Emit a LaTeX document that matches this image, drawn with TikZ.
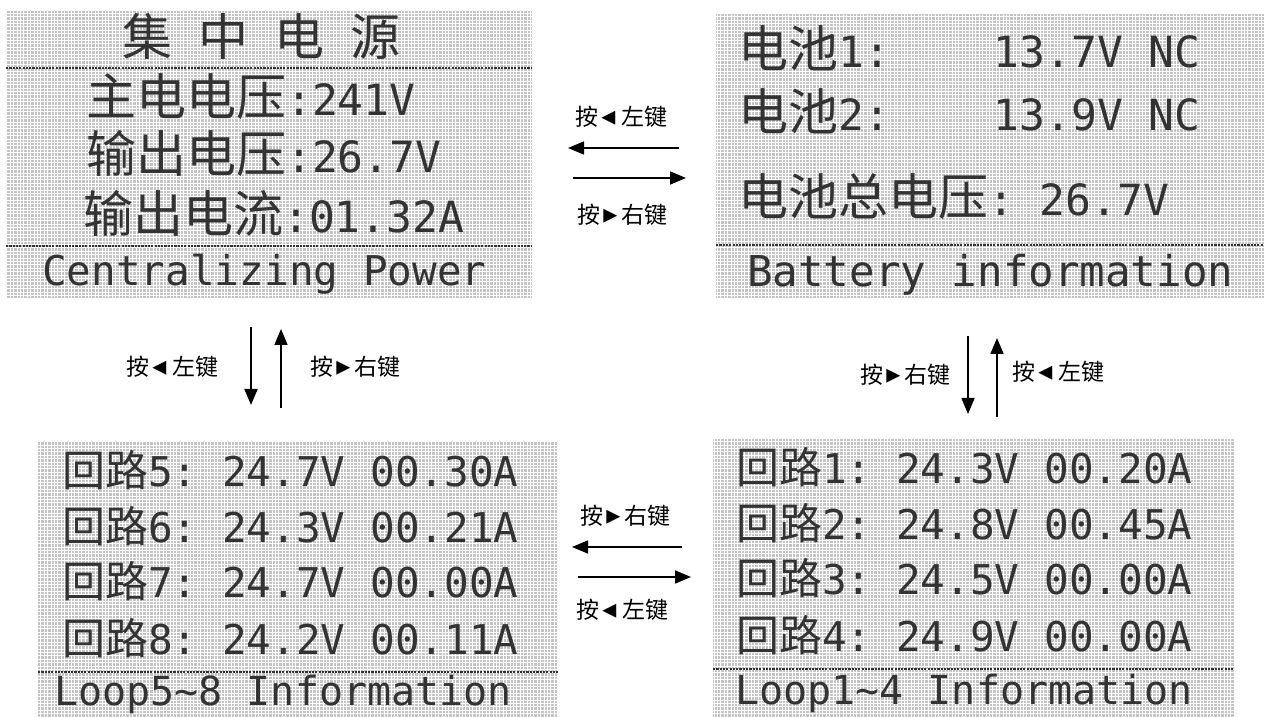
\documentclass[tikz,border=0pt]{standalone}
\usepackage{fontspec}
\usetikzlibrary{arrows.meta}
\newfontfamily\lcdzh{Noto Sans CJK SC}
\newfontfamily\lcdmono{DejaVu Sans Mono}
\newfontfamily\keysym{DejaVu Sans}
% one line of an LCD screen: chinese part, then fixed-width part
\newcommand{\lcdtext}[4]{{\lcdzh\fontsize{#1}{#1}\selectfont #3}{\lcdmono\fontsize{#2}{#2}\selectfont #4}}
\newcommand{\lcdlatin}[2]{{\lcdmono\fontsize{#1}{#1}\selectfont #2}}
\newcommand{\keytri}[1]{{\keysym\fontsize{28}{28}\selectfont\makebox[9pt]{#1}}}
\newcommand{\keyleft}{按\hspace{6pt}\keytri{◂}\hspace{8pt}左键}
\newcommand{\keyright}{按\hspace{6pt}\keytri{▸}\hspace{6pt}右键}

\begin{document}
\begin{tikzpicture}[x=1pt,y=1pt,>={Triangle[length=16pt,width=13pt]},
    lcdback/.style={fill=black!23},
    lcdgrid/.style={draw=white,line width=0.9pt,step=3.4pt},
    lcdsep/.style={draw=black!80,line width=2.4pt,dash pattern=on 2.2pt off 1.1pt},
    lcdtxt/.style={anchor=base west,inner sep=0pt,text=black!80},
    keytxt/.style={inner sep=0pt,font=\lcdzh\fontsize{23}{23}\selectfont},
    keyarrow/.style={->,line width=1.6pt}]
    \useasboundingbox (0,0) rectangle (1264,717);

    % the four screens
    \foreach \xa/\ya/\xb/\yb in {6/418/532/706,716/419/1264/703,38/0/558/275,713/0/1234/278}{
        \fill[lcdback] (\xa,\ya) rectangle (\xb,\yb);
        \draw[lcdgrid] (\xa,\ya) grid (\xb,\yb);
    }
    \draw[lcdsep] (6,649) -- (532,649);
    \draw[lcdsep] (6,471) -- (532,471);
    \draw[lcdsep] (716,472) -- (1264,472);
    \draw[lcdsep] (38,45) -- (558,45);
    \draw[lcdsep] (713,48) -- (1234,48);

    % centralizing power
    \node[lcdtxt] (powtitle) at (122,661) {\lcdtext{50pt}{43pt}{集\hspace{26pt}中\hspace{26pt}电\hspace{26pt}源}{}};
    \node[lcdtxt] (powmain) at (86,601) {\lcdtext{50pt}{43pt}{主电电压}{:241V}};
    \node[lcdtxt] (powvolt) at (86,544) {\lcdtext{50pt}{43pt}{输出电压}{:26.7V}};
    \node[lcdtxt] (powcurr) at (83,484) {\lcdtext{50pt}{43pt}{输出电流}{:01.32A}};
    \node[lcdtxt] (powname) at (42,431) {\lcdlatin{41pt}{Centralizing Power}};

    % battery information
    \node[lcdtxt] (batone) at (738,649) {\lcdtext{50pt}{43pt}{电池}{1:\ \ \ \ 13.7V\ NC}};
    \node[lcdtxt] (battwo) at (738,586) {\lcdtext{50pt}{43pt}{电池}{2:\ \ \ \ 13.9V\ NC}};
    \node[lcdtxt] (batsum) at (738,501) {\lcdtext{50pt}{43pt}{电池总电压}{:\ 26.7V}};
    \node[lcdtxt] (batname) at (747,430) {\lcdlatin{42.5pt}{Battery information}};

    % loops 5-8
    \node[lcdtxt] (loopfive) at (62,230) {\lcdtext{43pt}{41pt}{回路}{5:\ 24.7V\ 00.30A}};
    \node[lcdtxt] (loopsix) at (62,174) {\lcdtext{43pt}{41pt}{回路}{6:\ 24.3V\ 00.21A}};
    \node[lcdtxt] (loopseven) at (62,119) {\lcdtext{43pt}{41pt}{回路}{7:\ 24.7V\ 00.00A}};
    \node[lcdtxt] (loopeight) at (62,62) {\lcdtext{43pt}{41pt}{回路}{8:\ 24.2V\ 00.11A}};
    \node[lcdtxt] (loophiname) at (54,11) {\lcdlatin{40pt}{Loop5\textasciitilde8 Information}};

    % loops 1-4
    \node[lcdtxt] (loopone) at (736,233) {\lcdtext{43pt}{41pt}{回路}{1:\ 24.3V\ 00.20A}};
    \node[lcdtxt] (looptwo) at (736,177) {\lcdtext{43pt}{41pt}{回路}{2:\ 24.8V\ 00.45A}};
    \node[lcdtxt] (loopthree) at (736,122) {\lcdtext{43pt}{41pt}{回路}{3:\ 24.5V\ 00.00A}};
    \node[lcdtxt] (loopfour) at (736,65) {\lcdtext{43pt}{41pt}{回路}{4:\ 24.9V\ 00.00A}};
    \node[lcdtxt] (looploname) at (735,12) {\lcdlatin{40pt}{Loop1\textasciitilde4 Information}};

    % key presses between the screens
    \coordinate (pbfrom) at (679,569); \coordinate (pbto) at (568,569);
    \coordinate (bpfrom) at (573,539); \coordinate (bpto) at (686,539);
    \draw[keyarrow] (pbfrom) -- (pbto);
    \draw[keyarrow] (bpfrom) -- (bpto);
    \node[keytxt] (pbkey) at (621,600) {\keyleft};
    \node[keytxt] (bpkey) at (622,502) {\keyright};

    \coordinate (plfrom) at (251,390); \coordinate (plto) at (251,312);
    \coordinate (lpfrom) at (281,309); \coordinate (lpto) at (281,388);
    \draw[keyarrow] (plfrom) -- (plto);
    \draw[keyarrow] (lpfrom) -- (lpto);
    \node[keytxt] (plkey) at (172,350) {\keyleft};
    \node[keytxt] (lpkey) at (355,350) {\keyright};

    \coordinate (blfrom) at (968,381); \coordinate (blto) at (968,303);
    \coordinate (lbfrom) at (997,300); \coordinate (lbto) at (997,379);
    \draw[keyarrow] (blfrom) -- (blto);
    \draw[keyarrow] (lbfrom) -- (lbto);
    \node[keytxt] (blkey) at (905,342) {\keyright};
    \node[keytxt] (lbkey) at (1058,345) {\keyleft};

    \coordinate (lhfrom) at (682,170); \coordinate (lhto) at (572,170);
    \coordinate (hlfrom) at (578,140); \coordinate (hlto) at (691,140);
    \draw[keyarrow] (lhfrom) -- (lhto);
    \draw[keyarrow] (hlfrom) -- (hlto);
    \node[keytxt] (lhkey) at (625,201) {\keyright};
    \node[keytxt] (hlkey) at (622,107) {\keyleft};
\end{tikzpicture}
\end{document}
